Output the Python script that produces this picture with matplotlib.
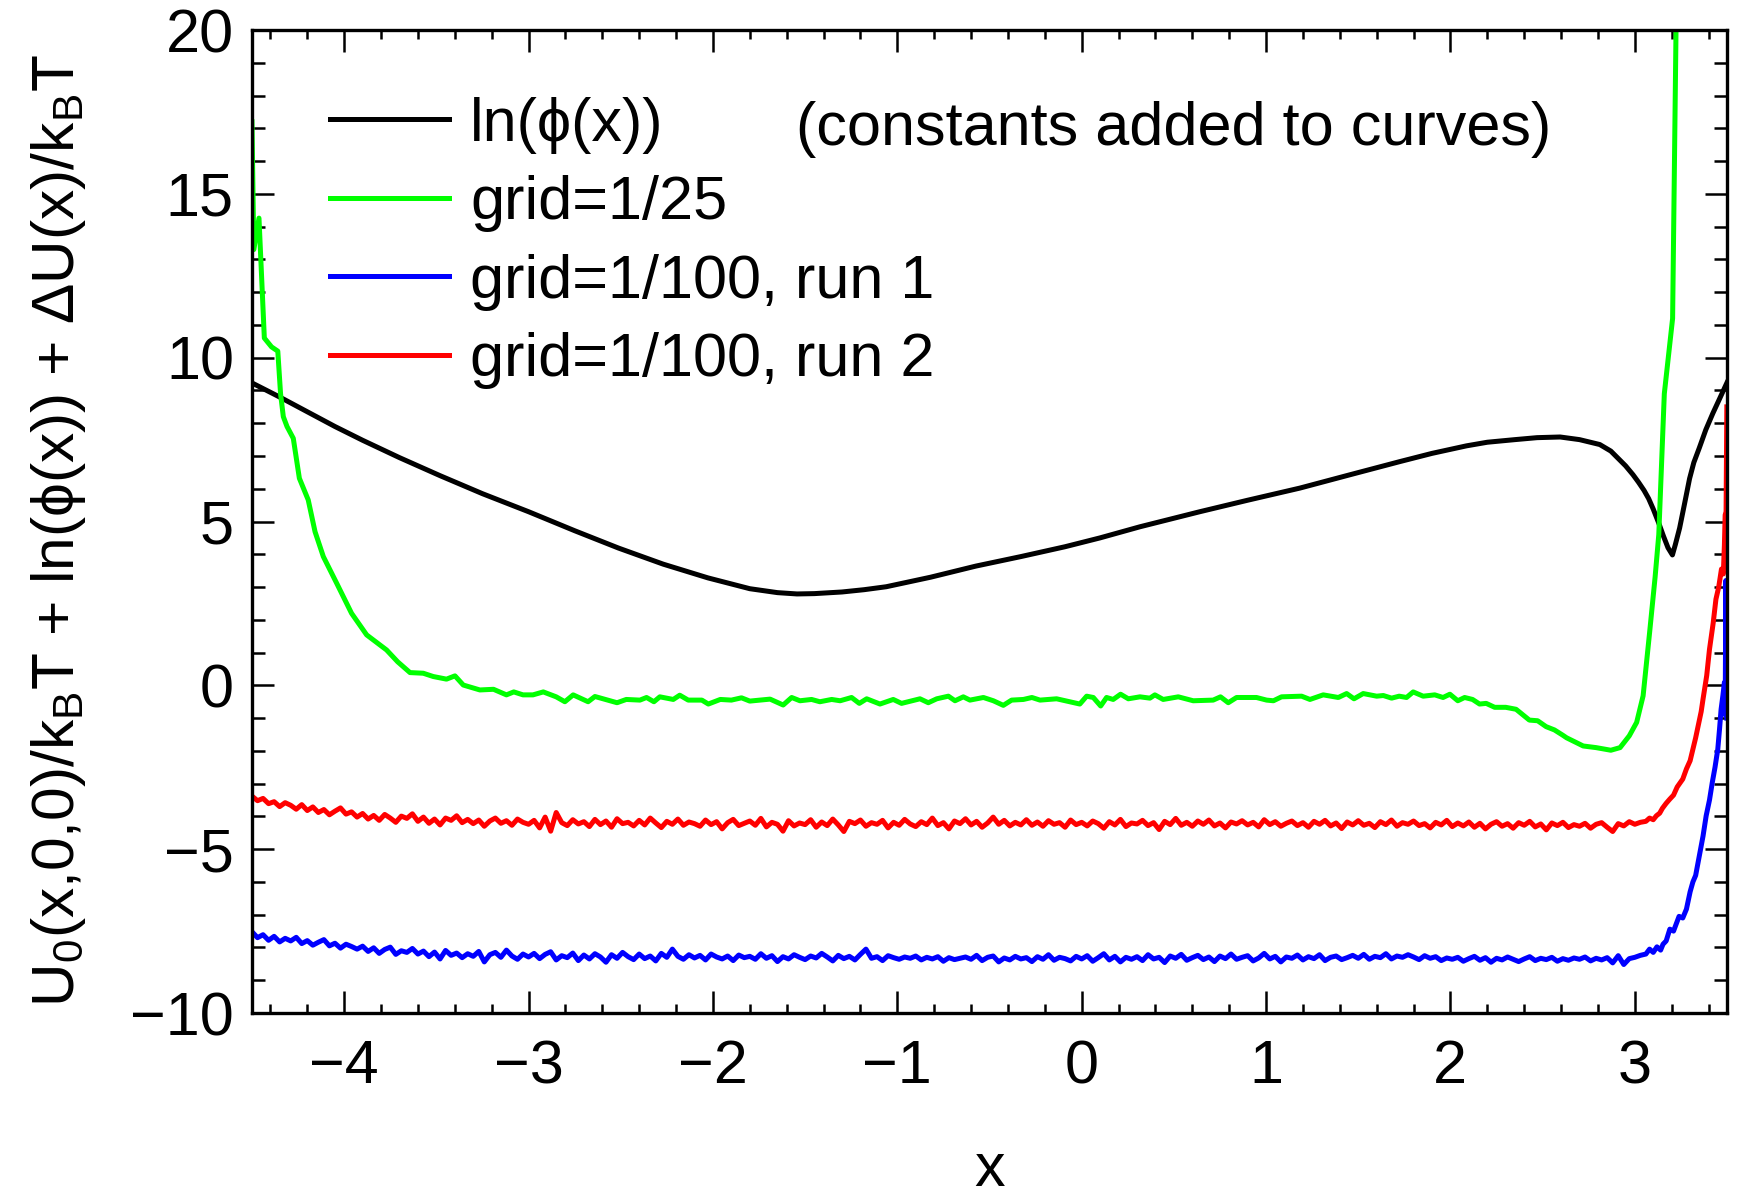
"""Free-energy profiles along x: ln(phi) and three grid runs, constants added to curves."""

import numpy as np
import matplotlib
matplotlib.use("Agg")
import matplotlib.pyplot as plt
from matplotlib.ticker import MultipleLocator

plt.rcParams['font.family'] = ['Liberation Sans', 'DejaVu Sans']
plt.rcParams['mathtext.fontset'] = 'custom'
plt.rcParams['mathtext.rm'] = 'Liberation Sans'
plt.rcParams['mathtext.it'] = 'Liberation Sans'
plt.rcParams['mathtext.default'] = 'regular'

# ln(phi(x)) -- smooth curve
phi_x = [-4.5, -4.35, -4.2, -4.05, -3.9, -3.7, -3.48, -3.25, -3.0, -2.75, -2.512, -2.27,
         -2.027, -1.8, -1.65, -1.544, -1.45, -1.3, -1.18, -1.06, -0.82, -0.574, -0.33,
         -0.091, 0.099, 0.316, 0.641, 0.9, 1.183, 1.45, 1.726, 1.9, 2.087, 2.2, 2.35,
         2.47, 2.595, 2.7, 2.81, 2.87, 2.95, 2.99, 3.02, 3.05, 3.075, 3.10, 3.13, 3.155,
         3.18, 3.204, 3.22, 3.243, 3.27, 3.297, 3.32, 3.35, 3.385, 3.423, 3.46, 3.5]
phi_y = [9.23, 8.80, 8.35, 7.90, 7.48, 6.95, 6.40, 5.85, 5.30, 4.72, 4.19, 3.70,
         3.28, 2.95, 2.83, 2.79, 2.80, 2.85, 2.92, 3.01, 3.30, 3.64, 3.93,
         4.23, 4.50, 4.84, 5.30, 5.65, 6.02, 6.42, 6.83, 7.08, 7.31, 7.42, 7.50,
         7.56, 7.58, 7.50, 7.35, 7.15, 6.70, 6.43, 6.20, 5.95, 5.70, 5.38, 4.95, 4.56,
         4.20, 3.98, 4.30, 4.80, 5.55, 6.31, 6.80, 7.25, 7.80, 8.30, 8.75, 9.24]

# grid=1/25
g25_x = [-4.5, -4.49, -4.462, -4.433, -4.394, -4.36, -4.345, -4.33, -4.31, -4.276, -4.243,
         -4.195, -4.158, -4.113, -4.04, -3.96, -3.878, -3.77, -3.71, -3.643, -3.571, -3.517,
         -3.445, -3.399, -3.354, -3.264, -3.19, -3.12, -3.08, -3.03, -2.976, -2.92, -2.85,
         -2.803, -2.758, -2.677, -2.64, -2.52, -2.47, -2.396, -2.36, -2.32, -2.288, -2.215,
         -2.18, -2.134, -2.06, -2.025, -1.96, -1.9, -1.845, -1.8, -1.69, -1.619, -1.573,
         -1.528, -1.465, -1.42, -1.356, -1.31, -1.248, -1.206, -1.166, -1.094, -1.022,
         -0.977, -0.877, -0.832, -0.786, -0.723, -0.687, -0.642, -0.606, -0.533, -0.479,
         -0.425, -0.38, -0.316, -0.27, -0.226, -0.136, -0.01, 0.027, 0.063, 0.103, 0.135,
         0.171, 0.211, 0.253, 0.316, 0.37, 0.397, 0.442, 0.524, 0.605, 0.713, 0.753, 0.795,
         0.84, 0.948, 1.003, 1.04, 1.084, 1.193, 1.238, 1.31, 1.392, 1.437, 1.477, 1.527,
         1.6, 1.636, 1.681, 1.722, 1.762, 1.798, 1.852, 1.915, 1.96, 1.997, 2.04, 2.077,
         2.12, 2.158, 2.194, 2.24, 2.3, 2.356, 2.428, 2.473, 2.519, 2.564, 2.609, 2.63,
         2.72, 2.79, 2.87, 2.92, 2.97, 3.01, 3.045, 3.08, 3.11, 3.13, 3.16, 3.205, 3.225,
         3.23]
g25_y = [17.2, 13.3, 14.26, 10.6, 10.33, 10.2, 8.9, 8.2, 7.9, 7.54, 6.32,
         5.66, 4.69, 3.93, 3.11, 2.2, 1.54, 1.08, 0.72, 0.39, 0.37, 0.27,
         0.19, 0.29, 0.01, -0.14, -0.12, -0.29, -0.2, -0.29, -0.29, -0.2, -0.35,
         -0.5, -0.29, -0.5, -0.34, -0.53, -0.43, -0.45, -0.37, -0.5, -0.35, -0.43,
         -0.3, -0.45, -0.45, -0.57, -0.43, -0.45, -0.38, -0.48, -0.42, -0.6, -0.37,
         -0.47, -0.43, -0.5, -0.43, -0.47, -0.37, -0.55, -0.41, -0.57, -0.43,
         -0.55, -0.41, -0.53, -0.41, -0.33, -0.47, -0.35, -0.45, -0.37, -0.47,
         -0.61, -0.45, -0.43, -0.37, -0.45, -0.41, -0.57, -0.33, -0.37, -0.63, -0.37,
         -0.43, -0.27, -0.41, -0.35, -0.39, -0.29, -0.43, -0.35, -0.47, -0.45, -0.35, -0.53,
         -0.37, -0.37, -0.45, -0.47, -0.35, -0.33, -0.43, -0.29, -0.37, -0.25, -0.41, -0.25,
         -0.33, -0.31, -0.39, -0.33, -0.37, -0.2, -0.33, -0.29, -0.37, -0.27, -0.47, -0.37,
         -0.43, -0.57, -0.55, -0.67, -0.67, -0.73, -1.06, -1.08, -1.26, -1.36, -1.52, -1.6,
         -1.85, -1.9, -1.98, -1.9, -1.54, -1.13, -0.32, 1.6, 3.3, 4.6, 8.9, 11.2, 20.5,
         25.0]

# grid=1/100, run 2 -- flat part sampled every 0.03 from x=-4.5 to 3.03
run2_flat = [
    -3.38, -3.52, -3.45, -3.61, -3.55, -3.70, -3.58, -3.66, -3.78, -3.64,
    -3.82, -3.71, -3.88, -3.79, -3.95, -3.84, -3.74, -3.93, -3.86, -4.02,
    -3.91, -4.08, -3.97, -4.12, -3.94, -4.05, -4.18, -3.99, -4.06, -3.92,
    -4.15, -4.02, -4.21, -4.08, -4.26, -4.05, -4.12, -3.98, -4.19, -4.09,
    -4.22, -4.11, -4.30, -4.14, -4.05, -4.21, -4.13, -4.27, -4.08, -4.18,
    -4.24, -4.12, -4.35, -4.02, -4.45, -3.88, -4.19, -4.28, -4.10, -4.23,
    -4.16, -4.31, -4.09, -4.25, -4.14, -4.33, -4.07, -4.22, -4.18, -4.29,
    -4.12, -4.26, -4.05, -4.20, -4.34, -4.15, -4.24, -4.08, -4.27, -4.17,
    -4.22, -4.30, -4.11, -4.25, -4.16, -4.38, -4.19, -4.09, -4.28, -4.21,
    -4.14, -4.27, -4.06, -4.32, -4.18, -4.24, -4.45, -4.13, -4.29, -4.20,
    -4.25, -4.10, -4.33, -4.17, -4.28, -4.08, -4.26, -4.46, -4.15, -4.22,
    -4.11, -4.30, -4.19, -4.24, -4.12, -4.35, -4.18, -4.27, -4.09, -4.23,
    -4.31, -4.16, -4.25, -4.05, -4.28, -4.19, -4.38, -4.14, -4.22, -4.07,
    -4.26, -4.15, -4.33, -4.20, -4.02, -4.24, -4.12, -4.29, -4.18, -4.26,
    -4.10, -4.27, -4.17, -4.30, -4.13, -4.24, -4.19, -4.33, -4.11, -4.25,
    -4.18, -4.29, -4.14, -4.22, -4.36, -4.16, -4.26, -4.09, -4.31, -4.20,
    -4.23, -4.12, -4.28, -4.19, -4.40, -4.15, -4.25, -4.06, -4.27, -4.18,
    -4.30, -4.14, -4.24, -4.11, -4.29, -4.20, -4.35, -4.17, -4.23, -4.13,
    -4.26, -4.18, -4.32, -4.10, -4.25, -4.16, -4.30, -4.21, -4.14, -4.28,
    -4.19, -4.33, -4.15, -4.24, -4.12, -4.29, -4.20, -4.37, -4.17, -4.26,
    -4.13, -4.27, -4.21, -4.34, -4.16, -4.25, -4.11, -4.30, -4.19, -4.24,
    -4.14, -4.28, -4.22, -4.35, -4.18, -4.26, -4.12, -4.31, -4.20, -4.29,
    -4.17, -4.33, -4.21, -4.38, -4.24, -4.16, -4.30, -4.22, -4.36, -4.19,
    -4.27, -4.15, -4.32, -4.23, -4.41, -4.20, -4.28, -4.18, -4.34, -4.25,
    -4.30, -4.21, -4.36, -4.24, -4.19, -4.33, -4.46, -4.22, -4.29, -4.16,
    -4.24, -4.18]
run2_tail_x = [3.06, 3.08, 3.10, 3.117, 3.135, 3.15, 3.17, 3.19, 3.21, 3.23, 3.26, 3.28,
               3.30, 3.315, 3.33, 3.345, 3.36, 3.37, 3.39, 3.405, 3.425, 3.44, 3.455,
               3.47, 3.48, 3.486, 3.49, 3.495, 3.499]
run2_tail_y = [-4.15, -4.05, -4.10, -3.98, -3.90, -3.75, -3.60, -3.47, -3.35, -3.10, -2.86,
               -2.55, -2.30, -1.95, -1.60, -1.20, -0.80, -0.42, 0.30, 1.10, 1.90, 2.63, 3.00,
               3.55, 3.40, 4.30, 5.20, 5.30, 8.50]

# grid=1/100, run 1 -- flat part sampled every 0.03 from x=-4.5 to 3.03
run1_flat = [
    -7.52, -7.70, -7.61, -7.78, -7.66, -7.83, -7.72, -7.80, -7.69, -7.88,
    -7.79, -7.93, -7.84, -7.76, -7.95, -7.87, -8.02, -7.90, -7.97, -8.05,
    -7.96, -8.12, -8.01, -8.18, -8.06, -7.99, -8.21, -8.10, -8.15, -8.03,
    -8.20, -8.11, -8.28, -8.14, -8.35, -8.09, -8.24, -8.17, -8.31, -8.19,
    -8.27, -8.12, -8.44, -8.22, -8.15, -8.30, -8.08, -8.26, -8.36, -8.20,
    -8.29, -8.18, -8.34, -8.21, -8.13, -8.38, -8.25, -8.31, -8.17, -8.40,
    -8.23, -8.35, -8.19, -8.29, -8.45, -8.22, -8.33, -8.15, -8.28, -8.37,
    -8.20, -8.34, -8.26, -8.41, -8.18, -8.30, -8.05, -8.27, -8.36, -8.22,
    -8.32, -8.24, -8.38, -8.20, -8.29, -8.35, -8.26, -8.40, -8.23, -8.31,
    -8.27, -8.36, -8.19, -8.33, -8.25, -8.43, -8.28, -8.35, -8.22, -8.30,
    -8.37, -8.26, -8.32, -8.18, -8.29, -8.41, -8.24, -8.34, -8.27, -8.38,
    -8.21, -8.05, -8.33, -8.28, -8.40, -8.25, -8.31, -8.36, -8.29, -8.33,
    -8.26, -8.38, -8.30, -8.35, -8.28, -8.42, -8.31, -8.37, -8.33, -8.29,
    -8.36, -8.24, -8.40, -8.30, -8.26, -8.44, -8.32, -8.38, -8.27, -8.35,
    -8.31, -8.43, -8.28, -8.36, -8.22, -8.39, -8.30, -8.34, -8.41, -8.27,
    -8.35, -8.25, -8.42, -8.31, -8.19, -8.38, -8.27, -8.44, -8.30, -8.36,
    -8.28, -8.40, -8.22, -8.35, -8.30, -8.46, -8.26, -8.33, -8.21, -8.39,
    -8.31, -8.24, -8.37, -8.29, -8.43, -8.26, -8.34, -8.20, -8.36, -8.30,
    -8.25, -8.41, -8.32, -8.18, -8.35, -8.27, -8.44, -8.29, -8.33, -8.23,
    -8.38, -8.28, -8.34, -8.22, -8.40, -8.30, -8.26, -8.37, -8.31, -8.24,
    -8.33, -8.21, -8.36, -8.27, -8.31, -8.19, -8.35, -8.26, -8.30, -8.22,
    -8.29, -8.37, -8.25, -8.33, -8.28, -8.40, -8.32, -8.36, -8.30, -8.42,
    -8.34, -8.27, -8.39, -8.31, -8.45, -8.33, -8.38, -8.29, -8.36, -8.43,
    -8.35, -8.28, -8.40, -8.33, -8.37, -8.30, -8.42, -8.34, -8.39, -8.32,
    -8.36, -8.29, -8.41, -8.33, -8.38, -8.31, -8.47, -8.25, -8.52, -8.34,
    -8.30, -8.24]
run1_tail_x = [3.06, 3.08, 3.10, 3.12, 3.14, 3.153, 3.17, 3.19, 3.21, 3.24, 3.26, 3.28,
               3.30, 3.315, 3.33, 3.35, 3.37, 3.387, 3.405, 3.42, 3.435, 3.45, 3.46,
               3.468, 3.478, 3.486, 3.49, 3.494, 3.499]
run1_tail_y = [-8.20, -8.05, -8.15, -7.98, -8.08, -7.90, -7.80, -7.44, -7.50, -7.05, -7.10,
               -6.83, -6.30, -6.00, -5.80, -5.20, -4.60, -3.98, -3.50, -2.97, -2.50, -1.95,
               -1.30, -0.73, -0.30, 0.09, -0.90, 3.20, -1.00]

x_ticks = [-4, -3, -2, -1, 0, 1, 2, 3]
y_ticks = [-10, -5, 0, 5, 10, 15, 20]


def build_run(flat, tail_x, tail_y):
    x = np.concatenate([np.linspace(-4.5, 3.03, len(flat)), tail_x])
    y = np.concatenate([flat, tail_y])
    return x, y


fs = 44

fig = plt.figure(figsize=(17.39, 11.97), dpi=100)
ax = fig.add_axes([0.1449, 0.1537, 0.8482, 0.8212])

lw = 3.6
run1_x, run1_y = build_run(run1_flat, run1_tail_x, run1_tail_y)
run2_x, run2_y = build_run(run2_flat, run2_tail_x, run2_tail_y)

ax.plot(phi_x, phi_y, color='black', lw=lw, label='ln(ϕ(x))')
ax.plot(g25_x, g25_y, color='#00ff00', lw=lw, label='grid=1/25')
ax.plot(run1_x, run1_y, color='#0000ff', lw=lw, label='grid=1/100, run 1')
ax.plot(run2_x, run2_y, color='#ff0000', lw=lw, label='grid=1/100, run 2')

ax.set_xlim(-4.5, 3.5)
ax.set_ylim(-10, 20)
ax.set_xticks(x_ticks)
ax.set_yticks(y_ticks)
ax.xaxis.set_minor_locator(MultipleLocator(0.2))
ax.yaxis.set_minor_locator(MultipleLocator(1))
ax.tick_params(which='both', direction='in', top=True, right=True, width=1.8,
               labelsize=fs)
ax.tick_params(axis='x', which='major', length=16, pad=19)
ax.tick_params(axis='x', which='minor', length=6.5)
ax.tick_params(axis='y', which='major', length=16, pad=13)
ax.tick_params(axis='y', which='minor', length=9.5)
for s in ax.spines.values():
    s.set_linewidth(2.4)

ax.set_xlabel('x', fontsize=fs)
ax.xaxis.set_label_coords(0.5, -0.131)
ax.set_ylabel('U$_0$(x,0,0)/k$_B$T + ln(ϕ(x)) + ΔU(x)/k$_B$T', fontsize=43.5)
ax.yaxis.set_label_coords(-0.111, 0.491)

ax.legend(loc='upper left', bbox_to_anchor=(0.053, 0.932), frameon=False, fontsize=fs,
          handlelength=1.95, handletextpad=0.34, labelspacing=0.35, borderpad=0,
          borderaxespad=0)
ax.text(0.369, 0.899, '(constants added to curves)', transform=ax.transAxes,
        fontsize=fs, va='center', ha='left')

plt.savefig('out.png', dpi=100)
